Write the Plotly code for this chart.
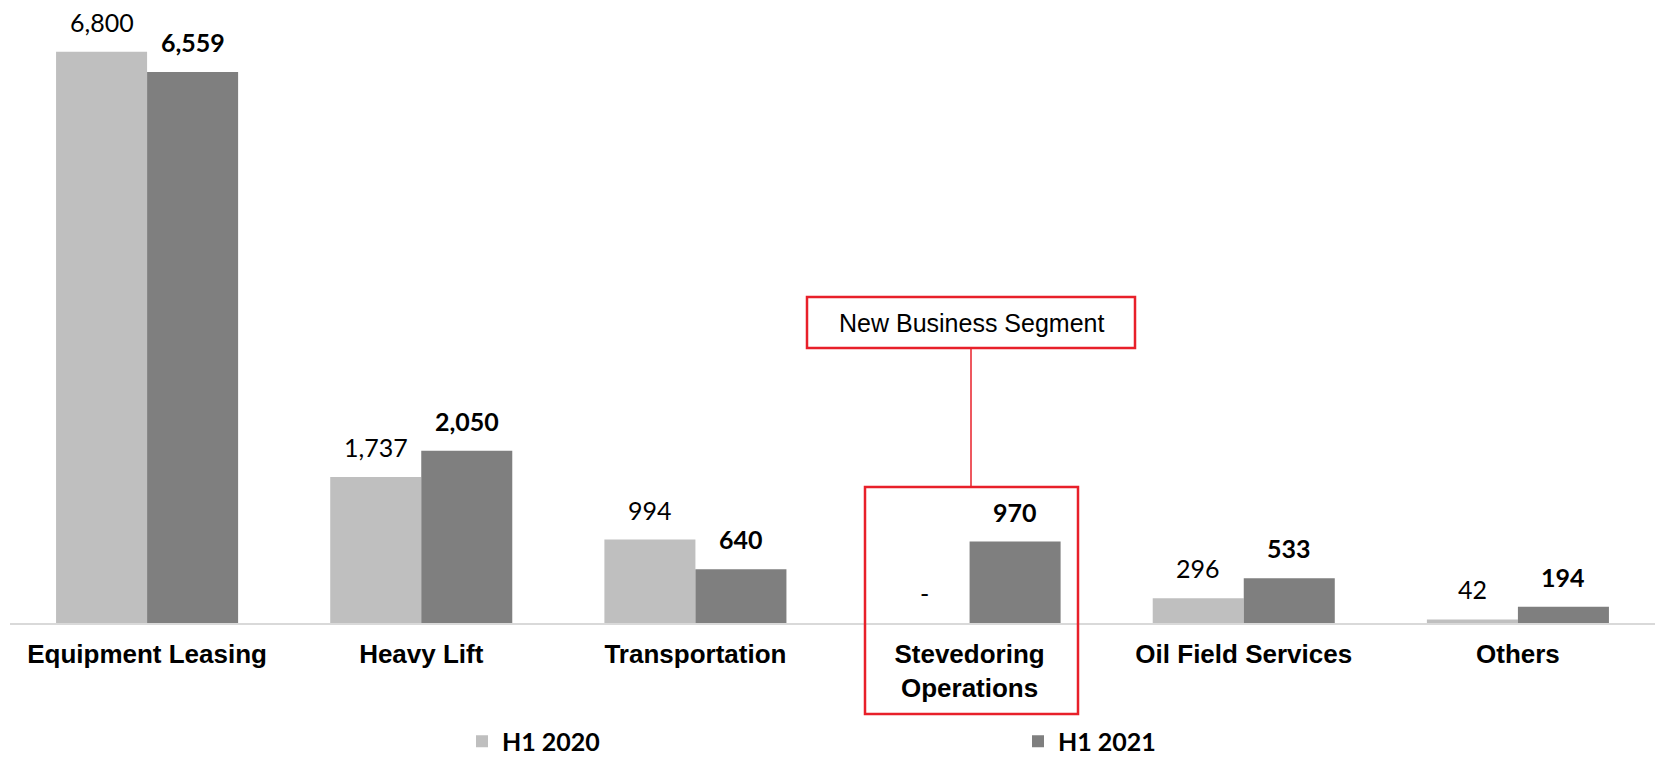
import plotly.graph_objects as go

categories = ["Equipment Leasing", "Heavy Lift", "Transportation",
              "Stevedoring<br>Operations", "Oil Field Services", "Others"]
h1_2020 = [6800, 1737, 994, 0, 296, 42]
h1_2021 = [6559, 2050, 640, 970, 533, 194]
series_names = ["H1 2020", "H1 2021"]

LIGHT = "#BFBFBF"
DARK = "#7F7F7F"
RED = "#E8202A"

W, H = 1655, 765
L, R, T, B = 10, 0, 0, 142


def fmt(v):
    return "-" if v == 0 else f"{v:,}"


fig = go.Figure()
fig.add_trace(go.Bar(x=categories, y=h1_2020, name=series_names[0],
                     marker_color=LIGHT, marker_line_width=0))
fig.add_trace(go.Bar(x=categories, y=h1_2021, name=series_names[1],
                     marker_color=DARK, marker_line_width=0))

# value labels above each bar (bold for the current half-year)
annotations = []
for vals, shift, bold in [(h1_2020, -45.5, False), (h1_2021, 45.5, True)]:
    for cat, v in zip(categories, vals):
        annotations.append(dict(
            x=cat, y=v, xref="x", yref="y", text=fmt(v),
            showarrow=False, xshift=shift, yshift=13, yanchor="bottom",
            font=dict(family="Lato", size=25, color="#000000",
                      weight="bold" if bold else "normal"),
        ))

plot_h = H - T - B
plot_w = W - L - R


def px_x(px):
    return (px - L) / plot_w


def px_y(py):
    return (H - B - py) / plot_h


# callout text
annotations.append(dict(
    x=px_x(971), y=px_y(323), xref="paper", yref="paper",
    text="New Business Segment", showarrow=False,
    font=dict(family="Liberation Sans, Arial", size=25, color="#000000"),
))

shapes = [
    # callout box
    dict(type="rect", xref="paper", yref="paper",
         x0=px_x(807), x1=px_x(1135), y0=px_y(348), y1=px_y(297),
         line=dict(color=RED, width=2.5)),
    # connector
    dict(type="line", xref="paper", yref="paper",
         x0=px_x(971), x1=px_x(971), y0=px_y(348), y1=px_y(487),
         line=dict(color=RED, width=1.5)),
    # highlight box around Stevedoring
    dict(type="rect", xref="paper", yref="paper",
         x0=px_x(865), x1=px_x(1078), y0=px_y(714), y1=px_y(487),
         line=dict(color=RED, width=2.5)),
]

fig.update_layout(
    width=W, height=H,
    margin=dict(l=L, r=R, t=T, b=B),
    paper_bgcolor="white", plot_bgcolor="white",
    barmode="group", bargap=0.336, bargroupgap=0,
    annotations=annotations, shapes=shapes,
    legend=dict(orientation="h", x=px_x(462), xanchor="left",
                y=px_y(764.5), yanchor="bottom",
                entrywidth=511, entrywidthmode="pixels",
                font=dict(family="Lato", size=25, color="#000000", weight="bold"),
                bgcolor="rgba(0,0,0,0)"),
    xaxis=dict(showgrid=False, showline=True, linecolor="#D9D9D9", linewidth=2,
               ticks="", zeroline=False, ticklabelstandoff=7,
               tickfont=dict(family="Liberation Sans, Arial", size=26,
                             color="#000000", weight="bold")),
    yaxis=dict(range=[0, 7416], visible=False, showgrid=False, zeroline=False),
)

# drop the browser's default body margin so the figure fills the window exactly
fig.write_html("out.html", post_script="document.body.style.margin='0';",
               config={"displayModeBar": False})
